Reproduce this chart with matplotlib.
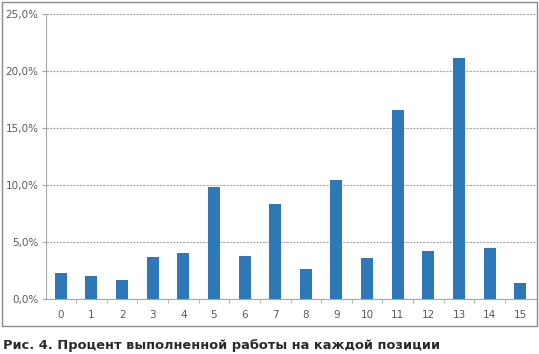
import matplotlib
matplotlib.use('Agg')
import matplotlib.pyplot as plt
from matplotlib.patches import Rectangle
from matplotlib.ticker import FuncFormatter, MultipleLocator

# data
positions = list(range(16))
percent = [2.3, 2.0, 1.7, 3.7, 4.0, 9.85, 3.75, 8.3, 2.6, 10.4, 3.6, 16.6, 4.25, 21.1, 4.45, 1.4]
caption = 'Рис. 4. Процент выполненной работы на каждой позиции'

fig = plt.figure(figsize=(5.39, 3.54), dpi=100)
ax = fig.add_axes([45.5 / 539, 55 / 354, 490 / 539, 285 / 354])

# outer chart frame
fig.patches.append(Rectangle((2 / 539, 28 / 354), 535 / 539, 324 / 354,
                             transform=fig.transFigure, fill=False,
                             edgecolor='#8a8a8a', linewidth=1.0))

ax.bar(positions, percent, width=0.39, color='#2e78b8', zorder=3)

ax.set_xlim(-0.5, 15.5)
ax.set_ylim(0, 25)
ax.yaxis.set_major_locator(MultipleLocator(5))
ax.yaxis.set_major_formatter(FuncFormatter(lambda v, p: ('%.1f%%' % v).replace('.', ',')))
ax.set_xticks(positions)
ax.set_xticks([p + 0.5 for p in positions[:-1]], minor=True)
ax.grid(axis='y', color='#a8a8a8', linestyle=(0, (2, 1)), linewidth=0.8, zorder=0)

for side in ['top', 'right']:
    ax.spines[side].set_visible(False)
ax.spines['left'].set_color('#a8a8a8')
ax.spines['left'].set_linestyle((0, (2, 1)))
ax.spines['bottom'].set_color('#a8a8a8')
ax.spines['bottom'].set_linestyle((0, (2, 1)))

ax.tick_params(axis='x', which='major', length=0, pad=8, labelsize=7.5, labelcolor='#5a5a5a')
ax.tick_params(axis='x', which='minor', length=3, color='#a8a8a8')
ax.tick_params(axis='y', length=3, color='#a8a8a8', pad=2, labelsize=7.5, labelcolor='#5a5a5a')

fig.text(3 / 539, 1 - 345 / 354, caption, fontsize=9.4, fontweight='bold',
         color='#2a2a2a', va='center', ha='left')

fig.savefig('out.png', dpi=100)
